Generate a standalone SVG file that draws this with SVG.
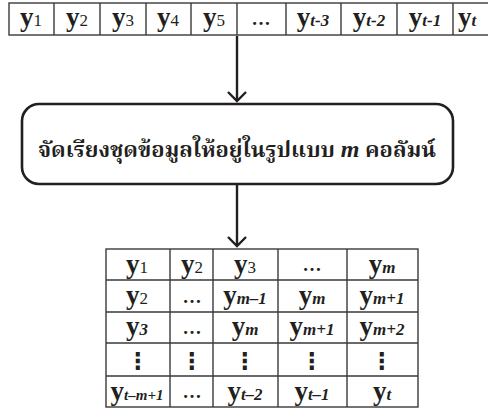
<svg xmlns="http://www.w3.org/2000/svg" width="488" height="409" viewBox="0 0 488 409">
<style>
.cell{fill:#fff;stroke:#3a3a3a;stroke-width:1.4}
.v{font-family:"Liberation Serif",serif;font-weight:bold;font-size:27px;fill:#231f20;text-anchor:middle}
.s{font-size:17px;font-weight:normal;font-style:normal}
.si{font-size:17px;font-style:italic;font-weight:bold}
.dots{font-family:"Liberation Serif",serif;font-weight:bold;font-size:19px;fill:#231f20;text-anchor:middle}
.vd{font-family:"DejaVu Sans",sans-serif;font-weight:bold;font-size:23px;fill:#231f20;text-anchor:middle}
.thai{font-family:"Noto Serif Thai","Noto Sans Thai","Loma","Garuda","Tlwg Typo","DejaVu Sans",sans-serif;font-weight:bold;font-size:22px;fill:#231f20;text-anchor:middle}
.line{stroke:#231f20;stroke-width:2.4;fill:none}
</style>
<defs>
<marker id="ah" viewBox="-10 -10 20 20" markerWidth="20" markerHeight="20" refX="0" refY="0" orient="auto" markerUnits="userSpaceOnUse">
<path d="M-9,-9 L0,0 L-9,9" fill="none" stroke="#231f20" stroke-width="2.4"/>
</marker>
</defs>
<g id="sequence">
<rect class="cell" x="9" y="3" width="491" height="32"/>
<path d="M54,3V35M100,3V35M146,3V35M191,3V35M237,3V35M286,3V35M341,3V35M397,3V35M453,3V35" stroke="#3a3a3a" stroke-width="1.4"/>
<text class="v" x="31" y="26">y<tspan class="s">1</tspan></text>
<text class="v" x="77" y="26">y<tspan class="s">2</tspan></text>
<text class="v" x="123" y="26">y<tspan class="s">3</tspan></text>
<text class="v" x="168" y="26">y<tspan class="s">4</tspan></text>
<text class="v" x="214" y="26">y<tspan class="s">5</tspan></text>
<text class="dots" x="261" y="25">…</text>
<text class="v" x="313" y="26">y<tspan class="si">t-3</tspan></text>
<text class="v" x="369" y="26">y<tspan class="si">t-2</tspan></text>
<text class="v" x="425" y="26">y<tspan class="si">t-1</tspan></text>
<text class="v" x="458" y="26" style="text-anchor:start">y<tspan class="si">t</tspan></text>
</g>
<g id="process">
<rect x="22" y="104" width="431" height="80" rx="17" fill="#fff" stroke="#231f20" stroke-width="2.6"/>
<text class="thai" x="237" y="157">จัดเรียงชุดข้อมูลให้อยู่ในรูปแบบ <tspan style="font-family:'Liberation Serif',serif;font-style:italic;font-size:24px">m</tspan> คอลัมน์</text>
</g>
<g id="table">
<rect class="cell" x="106" y="249" width="312" height="158"/>
<path d="M170,249V407M213,249V407M278,249V407M347,249V407M106,280H418M106,312H418M106,343H418M106,376H418" stroke="#3a3a3a" stroke-width="1.4"/>
<text class="v" x="137" y="273">y<tspan class="s">1</tspan></text>
<text class="v" x="192" y="273">y<tspan class="s">2</tspan></text>
<text class="v" x="245" y="273">y<tspan class="s">3</tspan></text>
<text class="dots" x="312" y="271">…</text>
<text class="v" x="382" y="273">y<tspan class="si">m</tspan></text>
<text class="v" x="137" y="304">y<tspan class="s">2</tspan></text>
<text class="dots" x="192" y="303">…</text>
<text class="v" x="245" y="304">y<tspan class="si">m–1</tspan></text>
<text class="v" x="312" y="304">y<tspan class="si">m</tspan></text>
<text class="v" x="382" y="304">y<tspan class="si">m+1</tspan></text>
<text class="v" x="137" y="335">y<tspan class="si">3</tspan></text>
<text class="dots" x="192" y="334">…</text>
<text class="v" x="245" y="335">y<tspan class="si">m</tspan></text>
<text class="v" x="312" y="335">y<tspan class="si">m+1</tspan></text>
<text class="v" x="382" y="335">y<tspan class="si">m+2</tspan></text>
<text class="vd" x="138" y="369">⋮</text>
<text class="vd" x="192" y="369">⋮</text>
<text class="vd" x="245" y="369">⋮</text>
<text class="vd" x="312" y="369">⋮</text>
<text class="vd" x="382" y="369">⋮</text>
<text class="v" x="137" y="400">y<tspan class="si" style="font-size:15px">t–m+1</tspan></text>
<text class="dots" x="192" y="398">…</text>
<text class="v" x="245" y="400">y<tspan class="si">t–2</tspan></text>
<text class="v" x="312" y="400">y<tspan class="si">t–1</tspan></text>
<text class="v" x="382" y="400">y<tspan class="si">t</tspan></text>
</g>
<g id="connectors">
<line class="line" x1="237" y1="36" x2="237" y2="101" marker-end="url(#ah)"/>
<line class="line" x1="237" y1="185" x2="237" y2="246" marker-end="url(#ah)"/>
</g>
</svg>
